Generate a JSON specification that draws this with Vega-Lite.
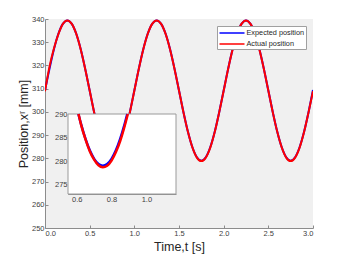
{
  "$schema": "https://vega.github.io/schema/vega-lite/v6.json",
  "autosize": {"type": "none"},
  "padding": {"left": 45, "top": 19, "right": 33, "bottom": 35},
  "width": 268,
  "height": 209,
  "background": "white",
  "datasets": {
    "main": [
      {"t": 0, "Expected position": 309.2, "Actual position": 308.9},
      {"t": 0.05, "Expected position": 318.53, "Actual position": 319.4},
      {"t": 0.1, "Expected position": 326.95, "Actual position": 327.3},
      {"t": 0.15, "Expected position": 333.63, "Actual position": 333.5},
      {"t": 0.2, "Expected position": 337.92, "Actual position": 337.9},
      {"t": 0.25, "Expected position": 339.4, "Actual position": 339.4},
      {"t": 0.3, "Expected position": 337.92, "Actual position": 337.9},
      {"t": 0.35, "Expected position": 333.63, "Actual position": 333.6},
      {"t": 0.4, "Expected position": 326.95, "Actual position": 326.9},
      {"t": 0.45, "Expected position": 318.53, "Actual position": 318.5},
      {"t": 0.5, "Expected position": 309.2, "Actual position": 309.2},
      {"t": 0.55, "Expected position": 299.87, "Actual position": 299.8},
      {"t": 0.6, "Expected position": 291.45, "Actual position": 291.4},
      {"t": 0.65, "Expected position": 284.77, "Actual position": 284.7},
      {"t": 0.7, "Expected position": 280.48, "Actual position": 280.3},
      {"t": 0.75, "Expected position": 279.0, "Actual position": 278.8},
      {"t": 0.8, "Expected position": 280.48, "Actual position": 280.3},
      {"t": 0.85, "Expected position": 284.77, "Actual position": 284.6},
      {"t": 0.9, "Expected position": 291.45, "Actual position": 291.3},
      {"t": 0.95, "Expected position": 299.87, "Actual position": 299.8},
      {"t": 1.0, "Expected position": 309.2, "Actual position": 309.1},
      {"t": 1.05, "Expected position": 318.53, "Actual position": 318.5},
      {"t": 1.1, "Expected position": 326.95, "Actual position": 326.9},
      {"t": 1.15, "Expected position": 333.63, "Actual position": 333.6},
      {"t": 1.2, "Expected position": 337.92, "Actual position": 337.9},
      {"t": 1.25, "Expected position": 339.4, "Actual position": 339.4},
      {"t": 1.3, "Expected position": 337.92, "Actual position": 337.9},
      {"t": 1.35, "Expected position": 333.63, "Actual position": 333.6},
      {"t": 1.4, "Expected position": 326.95, "Actual position": 326.9},
      {"t": 1.45, "Expected position": 318.53, "Actual position": 318.5},
      {"t": 1.5, "Expected position": 309.2, "Actual position": 309.2},
      {"t": 1.55, "Expected position": 299.87, "Actual position": 299.8},
      {"t": 1.6, "Expected position": 291.45, "Actual position": 291.4},
      {"t": 1.65, "Expected position": 284.77, "Actual position": 284.7},
      {"t": 1.7, "Expected position": 280.48, "Actual position": 280.3},
      {"t": 1.75, "Expected position": 279.0, "Actual position": 278.8},
      {"t": 1.8, "Expected position": 280.48, "Actual position": 280.3},
      {"t": 1.85, "Expected position": 284.77, "Actual position": 284.6},
      {"t": 1.9, "Expected position": 291.45, "Actual position": 291.3},
      {"t": 1.95, "Expected position": 299.87, "Actual position": 299.8},
      {"t": 2.0, "Expected position": 309.2, "Actual position": 309.1},
      {"t": 2.05, "Expected position": 318.53, "Actual position": 318.5},
      {"t": 2.1, "Expected position": 326.95, "Actual position": 326.9},
      {"t": 2.15, "Expected position": 333.63, "Actual position": 333.6},
      {"t": 2.2, "Expected position": 337.92, "Actual position": 337.9},
      {"t": 2.25, "Expected position": 339.4, "Actual position": 339.4},
      {"t": 2.3, "Expected position": 337.92, "Actual position": 337.9},
      {"t": 2.35, "Expected position": 333.63, "Actual position": 333.6},
      {"t": 2.4, "Expected position": 326.95, "Actual position": 326.9},
      {"t": 2.45, "Expected position": 318.53, "Actual position": 318.5},
      {"t": 2.5, "Expected position": 309.2, "Actual position": 309.2},
      {"t": 2.55, "Expected position": 299.87, "Actual position": 299.8},
      {"t": 2.6, "Expected position": 291.45, "Actual position": 291.4},
      {"t": 2.65, "Expected position": 284.77, "Actual position": 284.7},
      {"t": 2.7, "Expected position": 280.48, "Actual position": 280.3},
      {"t": 2.75, "Expected position": 279.0, "Actual position": 278.8},
      {"t": 2.8, "Expected position": 280.48, "Actual position": 280.3},
      {"t": 2.85, "Expected position": 284.77, "Actual position": 284.6},
      {"t": 2.9, "Expected position": 291.45, "Actual position": 291.3},
      {"t": 2.95, "Expected position": 299.87, "Actual position": 299.8},
      {"t": 3.0, "Expected position": 309.4, "Actual position": 308.9}
    ],
    "inset": [
      {"t": 0.6097, "series": "Expected position", "pos": 290.0},
      {"t": 0.625, "series": "Expected position", "pos": 287.85},
      {"t": 0.65, "series": "Expected position", "pos": 284.77},
      {"t": 0.675, "series": "Expected position", "pos": 282.29},
      {"t": 0.7, "series": "Expected position", "pos": 280.48},
      {"t": 0.725, "series": "Expected position", "pos": 279.37},
      {"t": 0.75, "series": "Expected position", "pos": 279.0},
      {"t": 0.775, "series": "Expected position", "pos": 279.37},
      {"t": 0.8, "series": "Expected position", "pos": 280.48},
      {"t": 0.825, "series": "Expected position", "pos": 282.29},
      {"t": 0.85, "series": "Expected position", "pos": 284.77},
      {"t": 0.875, "series": "Expected position", "pos": 287.85},
      {"t": 0.8903, "series": "Expected position", "pos": 290.0},
      {"t": 0.6105, "series": "Actual position", "pos": 290.0},
      {"t": 0.625, "series": "Actual position", "pos": 287.75},
      {"t": 0.65, "series": "Actual position", "pos": 284.65},
      {"t": 0.675, "series": "Actual position", "pos": 282.1},
      {"t": 0.7, "series": "Actual position", "pos": 280.3},
      {"t": 0.725, "series": "Actual position", "pos": 279.1},
      {"t": 0.75, "series": "Actual position", "pos": 278.7},
      {"t": 0.775, "series": "Actual position", "pos": 279.0},
      {"t": 0.8, "series": "Actual position", "pos": 280.1},
      {"t": 0.825, "series": "Actual position", "pos": 281.9},
      {"t": 0.85, "series": "Actual position", "pos": 284.3},
      {"t": 0.875, "series": "Actual position", "pos": 287.4},
      {"t": 0.8935, "series": "Actual position", "pos": 290.0}
    ]
  },
  "resolve": {"scale": {"x": "independent", "y": "independent"}, "axis": {"x": "independent", "y": "independent"}},
  "layer": [
    {
      "data": {"name": "main"},
      "transform": [{"fold": ["Expected position", "Actual position"], "as": ["series", "pos"]}],
      "mark": {"type": "line", "strokeWidth": 2, "interpolate": "monotone", "clip": true},
      "encoding": {
        "x": {
          "field": "t", "type": "quantitative",
          "scale": {"domain": [0, 3], "nice": false, "zero": false},
          "axis": {"orient": "bottom", "values": [0, 0.5, 1, 1.5, 2, 2.5, 3], "title": "Time,t [s]", "titlePadding": 4, "labelPadding": 4}
        },
        "y": {
          "field": "pos", "type": "quantitative",
          "scale": {"domain": [250, 340], "nice": false, "zero": false},
          "axis": {"orient": "left", "values": [250, 260, 270, 280, 290, 300, 310, 320, 330, 340], "title": "Position,xʳ [mm]", "titlePadding": 1, "labelPadding": 4}
        },
        "color": {
          "field": "series", "type": "nominal",
          "scale": {"domain": ["Expected position", "Actual position"], "range": ["#0000ff", "#ff0000"]},
          "legend": {"title": null}
        }
      }
    },
    {
      "layer": [
        {
          "data": {"values": [{}]},
          "mark": {"type": "rect", "fill": "white", "stroke": "#9a9a9a", "strokeWidth": 1},
          "encoding": {
            "x": {
              "datum": 0.55, "type": "quantitative",
              "scale": {"domain": [0.55, 1.17], "range": [23, 131], "nice": false, "zero": false},
              "axis": {"orient": "bottom", "offset": -34, "values": [0.6, 0.8, 1], "title": null, "labelPadding": 4}
            },
            "x2": {"datum": 1.17},
            "y": {
              "datum": 273, "type": "quantitative",
              "scale": {"domain": [273, 290], "range": [175, 95], "nice": false, "zero": false},
              "axis": {"orient": "left", "offset": -23, "values": [275, 280, 285, 290], "title": null, "labelPadding": 4}
            },
            "y2": {"datum": 290}
          }
        },
        {
          "data": {"name": "inset"},
          "mark": {"type": "line", "strokeWidth": 2.5, "interpolate": "monotone"},
          "encoding": {
            "x": {"field": "t", "type": "quantitative"},
            "y": {"field": "pos", "type": "quantitative"},
            "color": {"field": "series", "type": "nominal"}
          }
        }
      ]
    }
  ],
  "config": {
    "view": {"fill": "#f0f0f0", "stroke": null},
    "font": "Liberation Sans",
    "axis": {
      "grid": false,
      "domainColor": "#8c8c8c",
      "tickColor": "#8c8c8c",
      "tickSize": -3,
      "labelColor": "#404040",
      "labelFont": "Liberation Sans",
      "labelFontSize": 7.5,
      "titleFont": "Liberation Sans",
      "titleFontSize": 12.5,
      "titleFontWeight": "normal",
      "titleColor": "#262626"
    },
    "legend": {
      "orient": "top-right",
      "offset": 7,
      "fillColor": "white",
      "strokeColor": "#a0a0a0",
      "padding": 1.5,
      "labelFont": "Liberation Sans",
      "labelFontSize": 7.3,
      "labelColor": "#262626",
      "labelOffset": 9,
      "symbolType": "M-2.78,0H2.78",
      "symbolSize": 81,
      "symbolOffset": 8,
      "symbolStrokeWidth": 1.5,
      "rowPadding": 2
    }
  }
}
